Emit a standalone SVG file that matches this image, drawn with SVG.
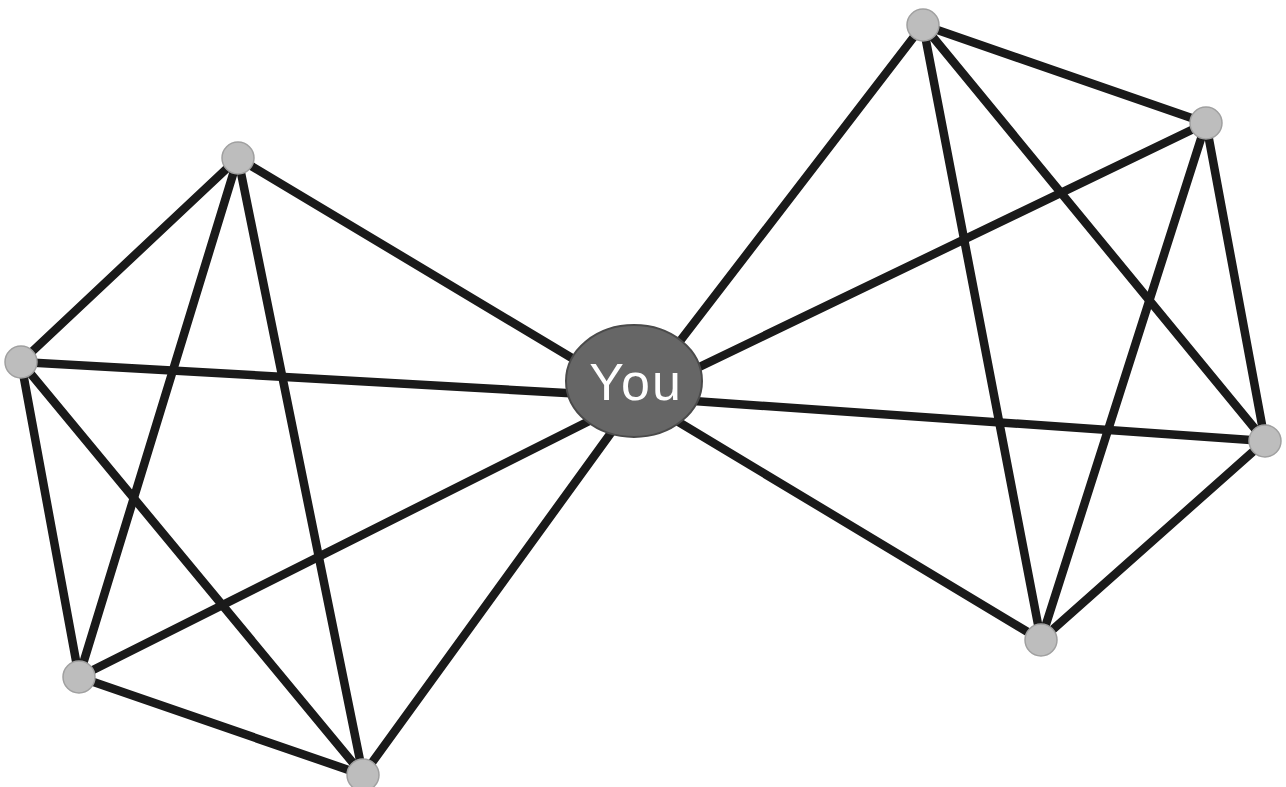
<svg xmlns="http://www.w3.org/2000/svg" width="1286" height="787" viewBox="0 0 1286 787">
<style>
.e{stroke:#1a1a1a;stroke-width:8.5;stroke-linecap:round}
.n{fill:#bdbdbd;stroke:#a0a0a0;stroke-width:1.5}
.t{font-family:"Liberation Sans",Arial,sans-serif;font-size:52px;fill:#ffffff;text-anchor:middle;letter-spacing:2px}
</style>
<rect width="1286" height="787" fill="#ffffff"/>
<g id="connectors">
<line class="e" x1="238" y1="158" x2="21" y2="362"/>
<line class="e" x1="238" y1="158" x2="79" y2="677"/>
<line class="e" x1="238" y1="158" x2="363" y2="775"/>
<line class="e" x1="21" y1="362" x2="79" y2="677"/>
<line class="e" x1="21" y1="362" x2="363" y2="775"/>
<line class="e" x1="79" y1="677" x2="363" y2="775"/>
<line class="e" x1="238" y1="158" x2="637" y2="397"/>
<line class="e" x1="21" y1="362" x2="637" y2="397"/>
<line class="e" x1="79" y1="677" x2="637" y2="397"/>
<line class="e" x1="363" y1="775" x2="637" y2="397"/>
<line class="e" x1="923" y1="25" x2="1206" y2="123"/>
<line class="e" x1="923" y1="25" x2="1265" y2="441"/>
<line class="e" x1="923" y1="25" x2="1041" y2="640"/>
<line class="e" x1="1206" y1="123" x2="1265" y2="441"/>
<line class="e" x1="1206" y1="123" x2="1041" y2="640"/>
<line class="e" x1="1265" y1="441" x2="1041" y2="640"/>
<line class="e" x1="923" y1="25" x2="637" y2="397"/>
<line class="e" x1="1206" y1="123" x2="637" y2="397"/>
<line class="e" x1="1265" y1="441" x2="637" y2="397"/>
<line class="e" x1="1041" y1="640" x2="637" y2="397"/>
</g>
<g id="you">
<ellipse cx="634" cy="381" rx="68" ry="56" fill="#666666" stroke="#4a4a4a" stroke-width="2"/>
<text class="t" x="636" y="400">You</text>
</g>
<g id="n1"><circle class="n" cx="238" cy="158" r="16"/></g>
<g id="n2"><circle class="n" cx="21" cy="362" r="16"/></g>
<g id="n3"><circle class="n" cx="79" cy="677" r="16"/></g>
<g id="n4"><circle class="n" cx="363" cy="775" r="16"/></g>
<g id="n5"><circle class="n" cx="923" cy="25" r="16"/></g>
<g id="n6"><circle class="n" cx="1206" cy="123" r="16"/></g>
<g id="n7"><circle class="n" cx="1265" cy="441" r="16"/></g>
<g id="n8"><circle class="n" cx="1041" cy="640" r="16"/></g>
</svg>
